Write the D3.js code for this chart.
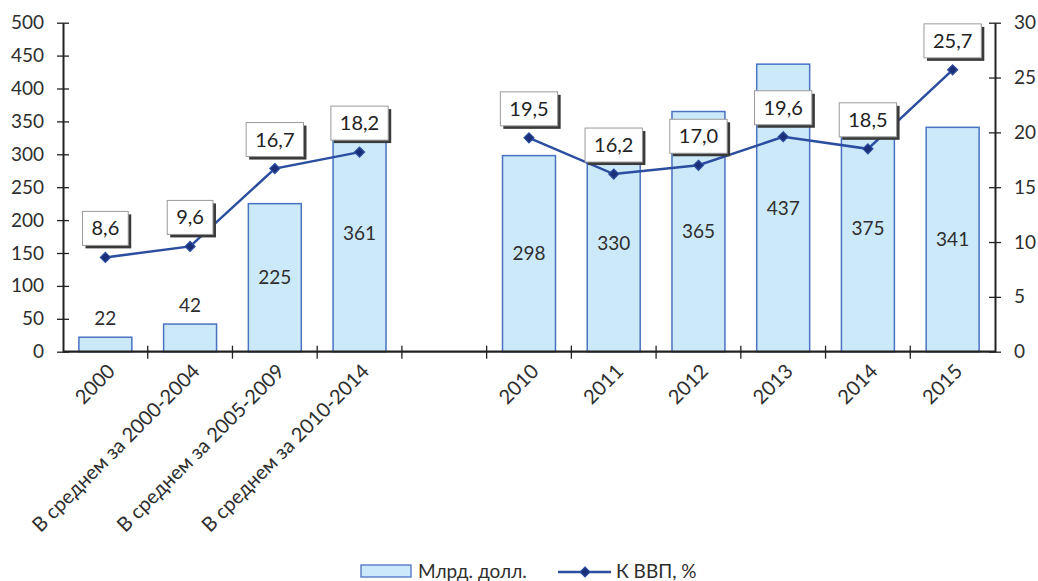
<!DOCTYPE html>
<html>
<head>
<meta charset="utf-8">
<script src="https://cdn.jsdelivr.net/npm/d3@7"></script>
<style>
  html, body { margin: 0; padding: 0; background: #fff; }
  svg { display: block; font-family: Lato, "Open Sans", sans-serif; }
</style>
</head>
<body>
<svg id="chart" width="1038" height="581"></svg>
<script>
// Categories on the x axis (an empty slot separates averages from yearly data)
const categories = [
  "2000",
  "В среднем за 2000-2004",
  "В среднем за 2005-2009",
  "В среднем за 2010-2014",
  "",
  "2010", "2011", "2012", "2013", "2014", "2015"
];
// Billions of dollars (bars, left axis)
const billions = [22, 42, 225, 361, null, 298, 330, 365, 437, 375, 341];
// Share of GDP, % (line, right axis)
const gdpShare = [8.6, 9.6, 16.7, 18.2, null, 19.5, 16.2, 17.0, 19.6, 18.5, 25.7];
const gdpLabels = ["8,6", "9,6", "16,7", "18,2", "", "19,5", "16,2", "17,0", "19,6", "18,5", "25,7"];
// Axis ticks
const leftTicks = [0, 50, 100, 150, 200, 250, 300, 350, 400, 450, 500];
const rightTicks = [0, 5, 10, 15, 20, 25, 30];
const legendLabels = ["Млрд. долл.", "К ВВП, %"];

const svg = d3.select("#chart");
const W = 1038, H = 581;
const margin = { top: 22.7, right: 43, bottom: 229.3, left: 63 };
const innerW = W - margin.left - margin.right;
const innerH = H - margin.top - margin.bottom;

const barFill = "#cce9f9";
const barStroke = "#4a72c2";
const lineColor = "#2b4ea0";
const markerColor = "#1b2f78";
const textColor = "#2e2e2e";
const fontSize = 19;

const g = svg.append("g").attr("transform", `translate(${margin.left},${margin.top})`);

const x = d3.scaleBand().domain(categories).range([0, innerW]).paddingInner(0.375).paddingOuter(0.1875);
const slot = innerW / categories.length;
const cx = i => x(categories[i]) + x.bandwidth() / 2;
const yL = d3.scaleLinear().domain([0, 500]).range([innerH, 0]);
const yR = d3.scaleLinear().domain([0, 30]).range([innerH, 0]);

// Bars
const rows = categories.map((c, i) => ({ c, i, v: billions[i], p: gdpShare[i], pl: gdpLabels[i] }));
g.selectAll("rect.bar").data(rows.filter(d => d.v != null)).join("rect")
  .attr("class", "bar")
  .attr("x", d => x(d.c))
  .attr("y", d => yL(d.v))
  .attr("width", x.bandwidth())
  .attr("height", d => yL(0) - yL(d.v))
  .attr("fill", barFill)
  .attr("stroke", barStroke)
  .attr("stroke-width", 1.5);

// Bar value labels: inside for tall bars, above for short ones
g.selectAll("text.barlab").data(rows.filter(d => d.v != null)).join("text")
  .attr("class", "barlab")
  .attr("x", d => cx(d.i))
  .attr("y", d => d.v > 100 ? (yL(d.v) + yL(0)) / 2 : yL(d.v) - 19)
  .attr("dy", "0.35em")
  .attr("text-anchor", "middle")
  .attr("font-size", fontSize)
  .attr("fill", textColor)
  .text(d => d.v);

// Left axis
const axisL = d3.axisLeft(yL).tickValues(leftTicks).tickSizeInner(6).tickSizeOuter(0).tickPadding(13);
const gL = g.append("g").call(axisL);
gL.select(".domain").attr("stroke", "#222").attr("stroke-width", 2);
gL.selectAll(".tick line").attr("stroke", "#222").attr("stroke-width", 1.3).attr("x2", 6).attr("x1", -6);
gL.selectAll(".tick text").attr("font-size", fontSize).attr("fill", textColor).attr("font-family", "Lato, sans-serif");

// Right axis
const axisR = d3.axisRight(yR).tickValues(rightTicks).tickSizeInner(6).tickSizeOuter(0).tickPadding(13);
const gR = g.append("g").attr("transform", `translate(${innerW},0)`).call(axisR);
gR.select(".domain").attr("stroke", "#222").attr("stroke-width", 2);
gR.selectAll(".tick line").attr("stroke", "#222").attr("stroke-width", 1.3).attr("x1", -6).attr("x2", 6);
gR.selectAll(".tick text").attr("font-size", fontSize).attr("fill", textColor).attr("font-family", "Lato, sans-serif");

// Bottom axis line and tick marks at slot boundaries
g.append("line").attr("x1", 0).attr("x2", innerW).attr("y1", innerH).attr("y2", innerH)
  .attr("stroke", "#222").attr("stroke-width", 2.2);
g.selectAll("line.xtick").data(d3.range(1, categories.length)).join("line")
  .attr("class", "xtick")
  .attr("x1", i => i * slot).attr("x2", i => i * slot)
  .attr("y1", innerH - 6).attr("y2", innerH + 7)
  .attr("stroke", "#222").attr("stroke-width", 1.3);

// Rotated category labels
g.selectAll("text.xlab").data(rows.filter(d => d.c !== "")).join("text")
  .attr("class", "xlab")
  .attr("transform", d => `translate(${cx(d.i) + 6},${innerH + 16}) rotate(-45)`)
  .attr("text-anchor", "end")
  .attr("dy", "0.35em")
  .attr("font-size", 20)
  .attr("fill", textColor)
  .text(d => d.c);

// GDP share line (broken at the empty slot)
const line = d3.line()
  .defined(d => d.p != null)
  .x(d => cx(d.i))
  .y(d => yR(d.p));
g.append("path").datum(rows)
  .attr("d", line)
  .attr("fill", "none")
  .attr("stroke", lineColor)
  .attr("stroke-width", 2.5);

const diamond = d3.symbol().type(d3.symbolDiamond2).size(64);
g.selectAll("path.mk").data(rows.filter(d => d.p != null)).join("path")
  .attr("class", "mk")
  .attr("transform", d => `translate(${cx(d.i)},${yR(d.p)})`)
  .attr("d", diamond)
  .attr("fill", markerColor)
  .attr("stroke", lineColor)
  .attr("stroke-width", 1.2);

// Boxed labels for GDP share
const boxes = g.selectAll("g.box").data(rows.filter(d => d.p != null)).join("g")
  .attr("class", "box")
  .attr("transform", d => `translate(${cx(d.i)},${yR(d.p) - 12})`);
boxes.each(function (d) {
  const b = d3.select(this);
  const shadow = b.append("rect");
  const rect = b.append("rect");
  const t = b.append("text")
    .attr("x", 0).attr("y", -17).attr("dy", "0.35em")
    .attr("text-anchor", "middle")
    .attr("font-size", 20)
    .attr("fill", "#222")
    .text(d.pl);
  const w = t.node().getComputedTextLength() + 18;
  const h = 34;
  shadow.attr("x", -w / 2 + 3).attr("y", -h + 3).attr("width", w).attr("height", h).attr("fill", "#3a3a3a");
  rect.attr("x", -w / 2).attr("y", -h).attr("width", w).attr("height", h)
    .attr("fill", "#fff").attr("stroke", "#9a9a9a").attr("stroke-width", 1);
});

// Legend
const lg = svg.append("g");
lg.append("rect").attr("x", 361).attr("y", 565).attr("width", 50).attr("height", 12)
  .attr("fill", barFill).attr("stroke", barStroke).attr("stroke-width", 1.3);
lg.append("text").attr("x", 418).attr("y", 571).attr("dy", "0.35em")
  .attr("font-size", fontSize).attr("fill", textColor).text(legendLabels[0]);
lg.append("line").attr("x1", 558).attr("x2", 611).attr("y1", 572).attr("y2", 572)
  .attr("stroke", lineColor).attr("stroke-width", 2.5);
lg.append("path").attr("transform", "translate(585,572)").attr("d", diamond)
  .attr("fill", markerColor).attr("stroke", lineColor).attr("stroke-width", 1.2);
lg.append("text").attr("x", 616).attr("y", 571).attr("dy", "0.35em")
  .attr("font-size", fontSize).attr("fill", textColor).text(legendLabels[1]);
</script>
</body>
</html>
